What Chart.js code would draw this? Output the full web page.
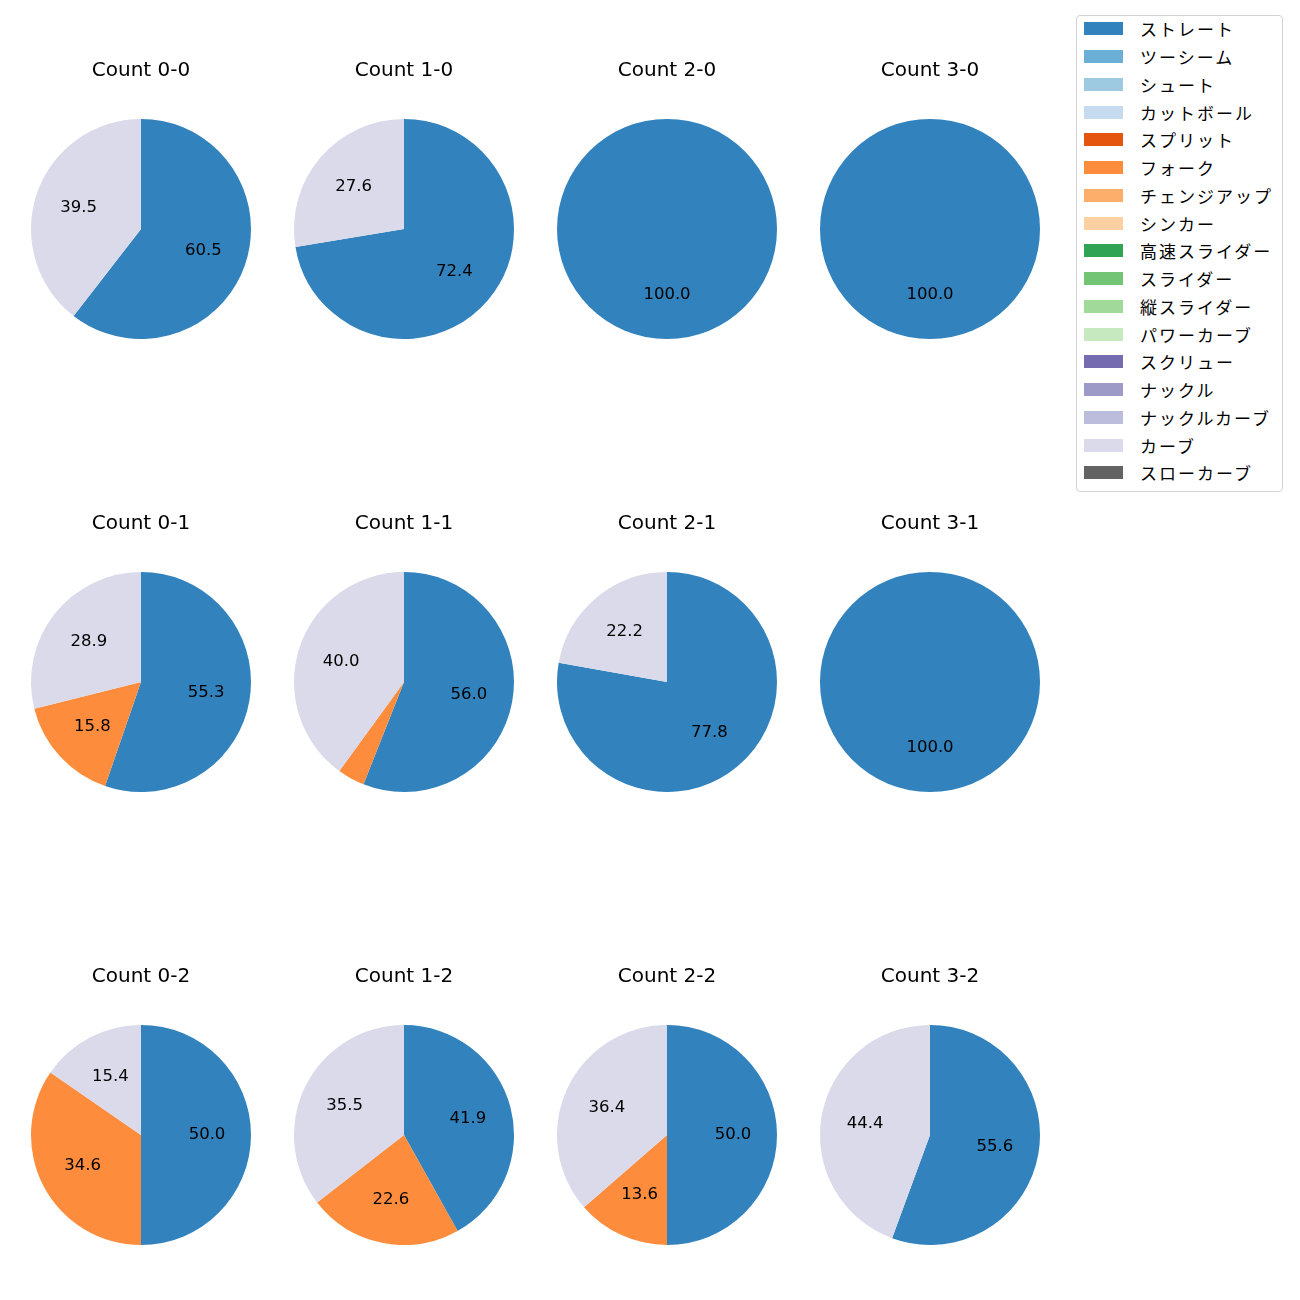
<!DOCTYPE html>
<html>
<head>
<meta charset="utf-8">
<script src="https://cdn.jsdelivr.net/npm/chart.js@4.4.0/dist/chart.umd.min.js"></script>
<style>
  body { margin: 0; background: #fff; font-family: "Noto Sans CJK JP", sans-serif; }
  #page { position: relative; width: 1300px; height: 1300px; }
  .pie_box { position: absolute; width: 240px; height: 290px; }
  #legend_box { position: absolute; left: 1076px; top: 15px; width: 205px; height: 475px;
    border: 1px solid #d3d3d3; border-radius: 4px; background: #fff; }
  #legend_box ul { list-style: none; margin: -1px 0 0 0; padding: 0; }
  #legend_box li { height: 27.75px; display: flex; align-items: center; font-size: 17px;
    letter-spacing: 2px; color: #000; }
  #legend_box li span.sw { display: inline-block; width: 39px; height: 13px; margin: 0 17px 0 7px; }
  #legend_canvas_box { display: none; }
</style>
</head>
<body>
<div id="page"></div>
<script>
let pitch_names = ['ストレート', 'ツーシーム', 'シュート', 'カットボール', 'スプリット', 'フォーク', 'チェンジアップ', 'シンカー',
    '高速スライダー', 'スライダー', '縦スライダー', 'パワーカーブ', 'スクリュー', 'ナックル', 'ナックルカーブ', 'カーブ', 'スローカーブ'];
let pitch_colors = ['#3182bd', '#6baed6', '#9ecae1', '#c6dbef', '#e6550d', '#fd8d3c', '#fdae6b', '#fdd0a2',
    '#31a354', '#74c476', '#a1d99b', '#c7e9c0', '#756bb1', '#9e9ac8', '#bcbddc', '#dadaeb', '#636363'];

// counts, in grid order (rows = strikes, cols = balls)
let counts = ['0-0', '1-0', '2-0', '3-0', '0-1', '1-1', '2-1', '3-1', '0-2', '1-2', '2-2', '3-2'];
// percent per count, only the pitch types that appear
let straight_vals = [60.5, 72.4, 100.0, 100.0, 55.3, 56.0, 77.8, 100.0, 50.0, 41.9, 50.0, 55.6];
let fork_vals     = [0, 0, 0, 0, 15.8, 4.0, 0, 0, 34.6, 22.6, 13.6, 0];
let curve_vals    = [39.5, 27.6, 0, 0, 28.9, 40.0, 22.2, 0, 15.4, 35.5, 36.4, 44.4];

let col_x = [141, 404, 667, 930];
let row_y = [229, 682, 1135];
let font_family = '"DejaVu Sans", "Noto Sans CJK JP", sans-serif';

// draws the percent text inside each slice, like autopct
const pct_labels = {
    id: 'pct_labels',
    afterDatasetsDraw(chart) {
        const c = chart.ctx;
        const meta = chart.getDatasetMeta(0);
        const vals = chart.data.datasets[0].data;
        c.save();
        c.font = '16.5px ' + font_family;
        c.fillStyle = '#000';
        c.textAlign = 'center';
        c.textBaseline = 'middle';
        meta.data.forEach((arc, i) => {
            if (vals[i] < 5) return;
            const p = arc.getProps(['x', 'y', 'startAngle', 'endAngle', 'outerRadius'], true);
            const mid = (p.startAngle + p.endAngle) / 2;
            const r = p.outerRadius * 0.6;
            c.fillText(vals[i].toFixed(1), p.x + Math.cos(mid) * r, p.y + Math.sin(mid) * r);
        });
        c.restore();
    }
};

let page = document.getElementById('page');

counts.forEach((count, k) => {
    let box = document.createElement('div');
    box.className = 'pie_box';
    box.style.left = (col_x[k % 4] - 120) + 'px';
    box.style.top = (row_y[Math.floor(k / 4)] - 180) + 'px';
    let cv = document.createElement('canvas');
    cv.width = 240;
    cv.height = 290;
    box.appendChild(cv);
    page.appendChild(box);

    let data = pitch_names.map(() => 0);
    data[0] = straight_vals[k];
    data[5] = fork_vals[k];
    data[15] = curve_vals[k];

    new Chart(cv.getContext('2d'), {
        type: 'pie',
        data: {
            labels: pitch_names,
            datasets: [{
                data: data,
                backgroundColor: pitch_colors,
                borderWidth: 0
            }]
        },
        options: {
            responsive: false,
            animation: false,
            layout: { padding: { left: 10, right: 10, top: 0, bottom: 0 } },
            plugins: {
                legend: { display: false },
                tooltip: { enabled: false },
                title: {
                    display: true,
                    text: 'Count ' + count,
                    color: '#000',
                    font: { family: font_family, size: 20, weight: 'normal', lineHeight: 1.2 },
                    padding: { top: 10, bottom: 36 }
                }
            }
        },
        plugins: [pct_labels]
    });
});

// legend: an html legend built from a chart's own generateLabels
let legend_box = document.createElement('div');
legend_box.id = 'legend_box';
page.appendChild(legend_box);
let legend_canvas_box = document.createElement('div');
legend_canvas_box.id = 'legend_canvas_box';
let legend_cv = document.createElement('canvas');
legend_cv.width = 10;
legend_cv.height = 10;
legend_canvas_box.appendChild(legend_cv);
page.appendChild(legend_canvas_box);

const html_legend = {
    id: 'html_legend',
    afterUpdate(chart) {
        const items = chart.options.plugins.legend.labels.generateLabels(chart);
        let ul = document.createElement('ul');
        items.forEach(item => {
            let li = document.createElement('li');
            let sw = document.createElement('span');
            sw.className = 'sw';
            sw.style.background = item.fillStyle;
            li.appendChild(sw);
            li.appendChild(document.createTextNode(item.text));
            ul.appendChild(li);
        });
        legend_box.innerHTML = '';
        legend_box.appendChild(ul);
    }
};

new Chart(legend_cv.getContext('2d'), {
    type: 'pie',
    data: {
        labels: pitch_names,
        datasets: [{ data: pitch_names.map(() => 1), backgroundColor: pitch_colors }]
    },
    options: {
        responsive: false,
        animation: false,
        plugins: { legend: { display: false }, tooltip: { enabled: false } }
    },
    plugins: [html_legend]
});
</script>
</body>
</html>
